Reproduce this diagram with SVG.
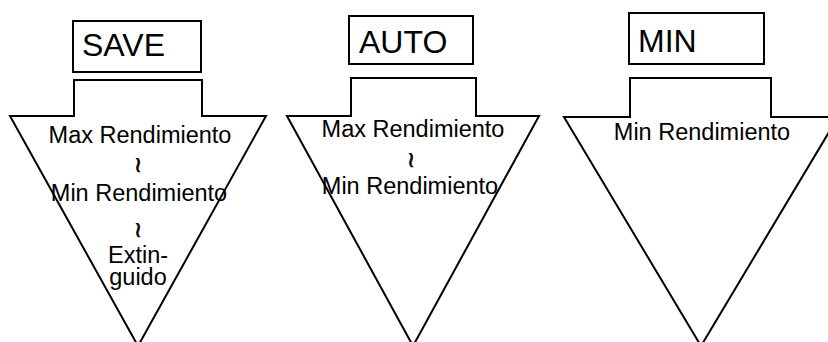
<svg xmlns="http://www.w3.org/2000/svg" width="828" height="342" viewBox="0 0 828 342">
<style>
.box{fill:#fff;stroke:#000;stroke-width:2}
.arr{fill:#fff;stroke:#000;stroke-width:2;stroke-linejoin:miter}
.lbl{font-family:"Liberation Sans",Arial,sans-serif;font-size:32px;fill:#000}
.t{font-family:"Liberation Sans",Arial,sans-serif;font-size:23.5px;fill:#000;text-anchor:middle}
.w{font-family:"DejaVu Sans",sans-serif;font-size:22px;fill:#000;stroke:#000;stroke-width:0.6;text-anchor:middle}
</style>
<rect width="828" height="342" fill="#fff"/>
<g id="save">
<rect class="box" x="73" y="21" width="128" height="51"/>
<text class="lbl" x="82" y="56">SAVE</text>
<polygon class="arr" points="74,80 202,80 202,116 266,116 138,346 10,116 74,116"/>
<text class="t" x="140" y="143">Max Rendimiento</text>
<text class="w" x="138" y="172">≀</text>
<text class="t" x="139" y="201">Min Rendimiento</text>
<text class="w" x="138" y="237">≀</text>
<text class="t" x="138" y="263">Extin-</text>
<text class="t" x="138" y="285">guido</text>
</g>
<g id="auto">
<rect class="box" x="349" y="16" width="124" height="48"/>
<text class="lbl" x="359" y="53">AUTO</text>
<polygon class="arr" points="351,78 476,78 476,116 539,116 413,346 287,116 351,116"/>
<text class="t" x="413" y="137">Max Rendimiento</text>
<text class="w" x="411" y="167">≀</text>
<text class="t" x="410" y="194">Min Rendimiento</text>
</g>
<g id="min">
<rect class="box" x="629" y="13" width="135" height="51"/>
<text class="lbl" x="638" y="52">MIN</text>
<polygon class="arr" points="630,78 771,78 771,117 838,117 701,346 564,117 630,117"/>
<text class="t" x="702" y="140">Min Rendimiento</text>
</g>
<g id="connectors"/>
</svg>
